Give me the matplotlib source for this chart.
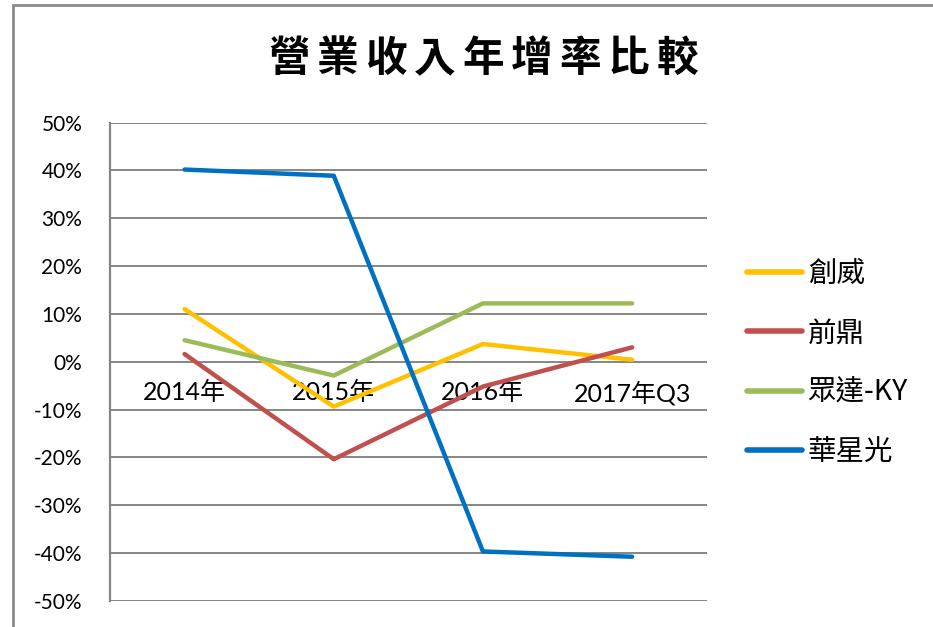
import matplotlib
matplotlib.use("Agg")
import matplotlib.pyplot as plt
from matplotlib.patches import Rectangle
from matplotlib.ticker import FuncFormatter

# data (year-over-year revenue growth, %)
categories = ["2014年", "2015年", "2016年", "2017年Q3"]
series_names = ["創威", "前鼎", "眾達-KY", "華星光"]
chuangwei = [11.0, -9.4, 3.7, 0.4]
qianding = [1.6, -20.4, -5.2, 3.0]
zhongda = [4.5, -2.9, 12.2, 12.2]
huaxingguang = [40.2, 38.9, -39.7, -40.8]
y_ticks = [-50, -40, -30, -20, -10, 0, 10, 20, 30, 40, 50]

colors = ["#FFC000", "#C0504D", "#9BBB59", "#0070C0"]
title = "營業收入年增率比較"

fig = plt.figure(figsize=(9.33, 6.27), dpi=100)
W, H = 933, 627

# gray outer frame (only top and left edge visible in the reference)
fig.add_artist(Rectangle((13 / W, -0.1), 1.2, (627 - 5) / H + 0.1,
                         transform=fig.transFigure, fill=False,
                         edgecolor="#8a8a8a", linewidth=2))

ax = fig.add_axes([110 / W, (627 - 600.7) / H, (706.7 - 110) / W, (600.7 - 122.7) / H])

x = list(range(len(categories)))
for name, vals, c in zip(series_names, [chuangwei, qianding, zhongda, huaxingguang], colors):
    ax.plot(x, vals, color=c, linewidth=3.2, label=name, solid_capstyle="round")

ax.set_xlim(-0.5, 3.5)
ax.set_ylim(-50, 50)
ax.set_yticks(y_ticks)
ax.yaxis.set_major_formatter(FuncFormatter(lambda v, p: f"{int(v)}%"))
ax.grid(axis="y", color="#868686", linewidth=1.4)
ax.set_axisbelow(True)

ax.set_xticks(x)
ax.set_xticklabels(categories)
ax.spines["bottom"].set_position(("data", 0))
ax.spines["bottom"].set_visible(False)
ax.spines["top"].set_visible(False)
ax.spines["right"].set_visible(False)
ax.spines["left"].set_color("#868686")
ax.spines["left"].set_linewidth(1.6)
ax.tick_params(axis="x", length=0, pad=14)
ax.tick_params(axis="y", length=0, pad=20)
for lab in ax.get_xticklabels():
    lab.set_family(["Lato", "Noto Sans CJK TC"])
    lab.set_fontsize(18)
for lab in ax.get_yticklabels():
    lab.set_family(["Lato", "DejaVu Sans"])
    lab.set_fontsize(15)

# title, characters spread out like the reference
x0, step = 289, 48.5
for i, ch in enumerate(title):
    fig.text((x0 + i * step) / W, 1 - 59 / H, ch, ha="center", va="center",
             fontsize=30, family="Noto Sans CJK TC", fontweight="bold")

leg = fig.legend(loc="upper left", bbox_to_anchor=(721 / W, 1 - 233 / H),
                 frameon=False, prop={"family": ["Noto Sans CJK TC", "DejaVu Sans"], "size": 20.5},
                 handlelength=1.93, handletextpad=0.21, labelspacing=1.04)
for line in leg.get_lines():
    line.set_linewidth(4)

fig.savefig("out.png", dpi=100)
